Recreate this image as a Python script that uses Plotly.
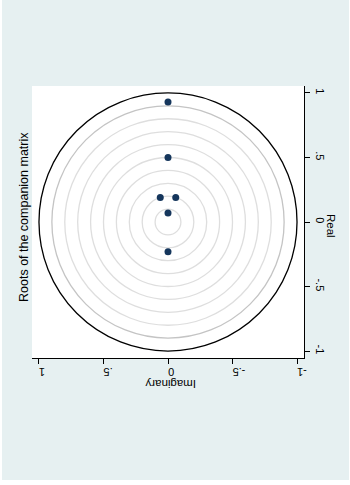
import plotly.graph_objects as go

# Data: eigenvalues (roots of the companion matrix)
root_real = [0.93, 0.50, 0.19, 0.19, 0.07, -0.23]
root_imag = [0.0, 0.0, 0.06, -0.06, 0.0, 0.0]
grid_radii = [0.1, 0.2, 0.3, 0.4, 0.5, 0.6, 0.7, 0.8, 0.9]
unit_radius = 1.0
tick_vals = [-1, -0.5, 0, 0.5, 1]
tick_text = ["-1", "-.5", "0", ".5", "1"]

W, H = 350, 485
L, R, T, B = 32, 46, 86, 127
pw = W - L - R
ph = H - T - B

def px(xp):
    return (xp - L) / pw

def py(yp):
    return (H - B - yp) / ph

FONT = "Liberation Sans, Arial, sans-serif"
BG = "#e6f0f1"

fig = go.Figure()

fig.add_trace(go.Scatter(
    x=root_imag, y=root_real, mode="markers",
    marker=dict(color="#15365c", size=7),
    showlegend=False, hoverinfo="skip"))

shapes = []
for r in grid_radii:
    col = "#c4c4c4" if r == 0.9 else "#dedede"
    shapes.append(dict(type="circle", xref="x", yref="y",
                       x0=-r, x1=r, y0=-r, y1=r,
                       line=dict(color=col, width=1.3), layer="below"))
shapes.append(dict(type="circle", xref="x", yref="y",
                   x0=-unit_radius, x1=unit_radius, y0=-unit_radius, y1=unit_radius,
                   line=dict(color="black", width=1.3), layer="below"))
# white strips outside the graph region
shapes.append(dict(type="rect", xref="paper", yref="paper",
                   x0=px(-5), x1=px(2), y0=py(-5), y1=py(490),
                   fillcolor="white", line=dict(width=0), layer="above"))
shapes.append(dict(type="rect", xref="paper", yref="paper",
                   x0=px(-5), x1=px(355), y0=py(480), y1=py(490),
                   fillcolor="white", line=dict(width=0), layer="above"))
shapes.append(dict(type="rect", xref="paper", yref="paper",
                   x0=px(349), x1=px(355), y0=py(-5), y1=py(490),
                   fillcolor="white", line=dict(width=0), layer="above"))

annotations = [
    dict(text="Roots of the companion matrix", textangle=-90,
         x=px(24), y=py(217), xref="paper", yref="paper",
         xanchor="center", yanchor="middle",
         showarrow=False, font=dict(family=FONT, size=12.5, color="black")),
    dict(text="Real", textangle=90,
         x=px(331), y=py(226), xref="paper", yref="paper",
         xanchor="center", yanchor="middle",
         showarrow=False, font=dict(family=FONT, size=11.5, color="black")),
    dict(text="Imaginary", textangle=180,
         x=px(171), y=py(384), xref="paper", yref="paper",
         xanchor="center", yanchor="middle",
         showarrow=False, font=dict(family=FONT, size=11.5, color="black")),
]

fig.update_layout(
    width=W, height=H, autosize=False,
    margin=dict(l=L, r=R, t=T, b=B, pad=0),
    paper_bgcolor=BG, plot_bgcolor="white",
    shapes=shapes, annotations=annotations,
    font=dict(family=FONT, size=11, color="black"),
    xaxis=dict(range=[1.054, -1.054], tickvals=tick_vals, ticktext=tick_text,
               tickangle=180, ticks="outside", ticklen=5, tickcolor="black",
               showline=True, linecolor="black", linewidth=1,
               showgrid=False, zeroline=False, side="bottom",
               ticklabelstandoff=2, tickfont=dict(size=11)),
    yaxis=dict(range=[-1.054, 1.054], tickvals=tick_vals, ticktext=tick_text,
               tickangle=90, ticks="outside", ticklen=5, tickcolor="black",
               showline=True, linecolor="black", linewidth=1,
               showgrid=False, zeroline=False, side="right",
               ticklabelstandoff=2, tickfont=dict(size=11)),
)

fig.write_html("out.html")
